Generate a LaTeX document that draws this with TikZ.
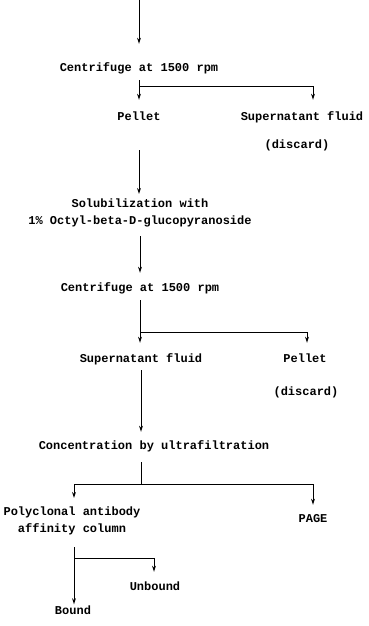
\documentclass[tikz,border=0pt]{standalone}
\usepackage{fontspec}
\setmonofont{Liberation Mono}
\usetikzlibrary{arrows.meta}
\begin{document}
\begin{tikzpicture}[x=1pt,y=-1pt,
  lbl/.style={font=\ttfamily\bfseries\fontsize{12}{17}\selectfont, inner sep=0pt, text height=8.5pt, text depth=2.5pt},
  mlbl/.style={font=\ttfamily\bfseries\fontsize{12}{17}\selectfont, inner sep=0pt, align=center},
  conn/.style={line width=1pt},
  arr/.style={conn,-{Stealth[length=6pt,width=3.8pt]}}]
\useasboundingbox (0,0) rectangle (368,626);
\fill[white] (0,0) rectangle (368,626);
% nodes
\node[lbl] (c1) at (139,68) {Centrifuge at 1500 rpm};
\node[lbl] (pel1) at (139,117) {Pellet};
\node[lbl] (sup1) at (302,117) {Supernatant fluid};
\node[lbl] (dis1) at (297,145) {(discard)};
\node[mlbl, anchor=north] (sol) at (140,199) {Solubilization with\\1\% Octyl-beta-D-glucopyranoside};
\node[lbl] (c2) at (140,288) {Centrifuge at 1500 rpm};
\node[lbl] (sup2) at (141,359) {Supernatant fluid};
\node[lbl] (pel2) at (305,359) {Pellet};
\node[lbl] (dis2) at (306,392) {(discard)};
\node[lbl] (conc) at (154,446) {Concentration by ultrafiltration};
\node[mlbl, anchor=north] (poly) at (72,507) {Polyclonal antibody\\affinity column};
\node[lbl] (page) at (313,519) {PAGE};
\node[lbl] (unb) at (155,587) {Unbound};
\node[lbl] (bnd) at (73,611) {Bound};
% branch points
\coordinate (top) at (139,0);
\coordinate (b1) at (139,86);  \coordinate (b1r) at (313,86);
\coordinate (b2) at (140,332); \coordinate (b2r) at (307,332);
\coordinate (b3) at (141,484); \coordinate (b3l) at (74,484); \coordinate (b3r) at (313,484);
\coordinate (b4) at (74,558);  \coordinate (b4r) at (154,558);
% connectors
\draw[arr, shorten >=18.5pt] (top) -- (c1.north);
\draw[arr, shorten <=6.5pt, shorten >=11.5pt] (c1.south) -- (pel1.north);
\draw[arr, shorten >=11.5pt] (b1) -- (b1r) -- (b1r |- sup1.north);
\draw[arr, shorten <=27.5pt, shorten >=5pt] (pel1.south) -- (pel1.south |- sol.north);
\draw[arr, shorten <=8.5pt, shorten >=9.5pt] (sol.south) -- (sol.south |- c2.north);
\draw[arr, shorten <=6.5pt, shorten >=10.5pt] (c2.south) -- (c2.south |- sup2.north);
\draw[arr, shorten >=10.5pt] (b2) -- (b2r) -- (b2r |- pel2.north);
\draw[arr, shorten <=5.5pt, shorten >=8.5pt] (sup2.south) -- (sup2.south |- conc.north);
\draw[conn, shorten <=10.5pt] (conc.south -| b3) -- (b3);
\draw[arr, shorten >=9pt] (b3l) -- (b3l |- poly.north);
\draw[arr, shorten >=8.5pt] (b3l) -- (b3r) -- (b3r |- page.north);
\draw[arr, shorten <=11.5pt, shorten >=1pt] (poly.south -| b4) -- (b4 |- bnd.north);
\draw[arr, shorten >=9.5pt] (b4) -- (b4r) -- (b4r |- unb.north);
\end{tikzpicture}
\end{document}
